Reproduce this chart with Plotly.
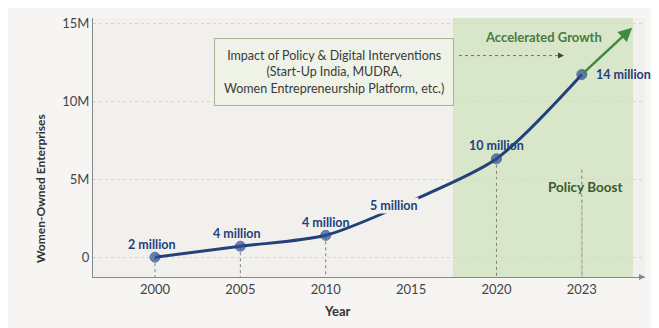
import plotly.graph_objects as go

# ---- data ----
years = ["2000", "2005", "2010", "2015", "2020", "2023"]
enterprises = [0.0, 0.7e6, 1.4e6, 3.6e6, 6.3e6, 11.7e6]
point_labels = ["2 million", "4 million", "4 million", "5 million", "10 million", "14 million"]
show_marker = [True, True, True, False, True, True]
y_tickvals = [0, 5e6, 10e6, 15e6]
y_ticktext = ["0", "5M", "10M", "15M"]
growth_arrow_end = (5.59, 14.7e6)

Y_MIN, Y_MAX = -1.27e6, 15.32e6
X_MIN, X_MAX = -0.726, 5.74

NAVY = "#22417a"
GREEN = "#3f8a3c"
FONT = "Lato, 'Open Sans', sans-serif"

# page body has an 8px margin: compensate so plot area sits at reference pixels
PW = 552.0   # plot width px
PH = 262.0   # plot height px


def px(xp):
    return (xp - 93) / PW


def py(yp):
    return (277 - yp) / PH


fig = go.Figure()

# green policy-boost region
fig.add_shape(type="rect", xref="x", yref="paper", x0=3.49, x1=5.60, y0=0, y1=1,
              fillcolor="#d8e6ca", line_width=0, layer="below")

# drop lines
for i, (yr, v) in enumerate(zip(years, enterprises)):
    if not show_marker[i]:
        continue
    top = v if yr != "2023" else 5.6e6
    fig.add_shape(type="line", xref="x", yref="y", x0=i, x1=i, y0=top, y1=Y_MIN,
                  line=dict(color="#7d7d7d", width=1, dash="dot"), layer="below")
# faint solid line below Policy Boost
fig.add_shape(type="line", xref="x", yref="y", x0=5, x1=5, y0=3.4e6, y1=Y_MIN,
              line=dict(color="#b9bfb2", width=1), layer="below")

# main curve
fig.add_trace(go.Scatter(
    x=years, y=enterprises, mode="lines+markers",
    line=dict(color=NAVY, width=3, shape="spline", smoothing=0.8),
    marker=dict(size=[10 if s else 0 for s in show_marker], color="#2b4f94"),
    hoverinfo="skip", showlegend=False,
))

# growth arrow
fig.add_annotation(x=growth_arrow_end[0], y=growth_arrow_end[1], xref="x", yref="y",
                   ax=5, ay=enterprises[-1], axref="x", ayref="y", text="",
                   showarrow=True, arrowhead=2, arrowsize=1.1, arrowwidth=2.5,
                   arrowcolor=GREEN)

# point labels
for i, (yr, v, lab) in enumerate(zip(years, enterprises, point_labels)):
    if i == 5:
        fig.add_annotation(x=i, y=v, xref="x", yref="y", text=f"<b>{lab}</b>",
                           showarrow=False, xanchor="left", xshift=12,
                           font=dict(family=FONT, size=12.5, color=NAVY))
    elif i == 3:
        fig.add_annotation(x=2.8, y=3.3e6, xref="x", yref="y", text=f"<b>{lab}</b>",
                           showarrow=False, bgcolor="#f2f0ed", borderpad=0,
                           font=dict(family=FONT, size=12.5, color=NAVY))
    else:
        fig.add_annotation(x=i, y=v, xref="x", yref="y", text=f"<b>{lab}</b>",
                           showarrow=False, yshift=13,
                           xshift=-3 if i < 2 else 0,
                           font=dict(family=FONT, size=12.5, color=NAVY))


def note(xp, yp, text, **kw):
    fig.add_annotation(x=px(xp), y=py(yp), xref="paper", yref="paper",
                       xanchor="center", yanchor="middle", text=text,
                       showarrow=False, **kw)


# text annotations
note(334, 70,
     "Impact of Policy &amp; Digital Interventions<br>(Start-Up India, MUDRA,<br>Women Entrepreneurship Platform, etc.)",
     align="center", bgcolor="#eef2e7", bordercolor="#a7b49a", borderwidth=1, borderpad=9,
     font=dict(family=FONT, size=12.5, color="#3a3a3a"))
fig.add_shape(type="line", xref="paper", yref="paper",
              x0=px(459), x1=px(557), y0=py(53), y1=py(53),
              line=dict(color="#6f6f6f", width=1, dash="dot"))
fig.add_annotation(x=px(564), y=py(53), xref="paper", yref="paper",
                   ax=-8, ay=0, text="", showarrow=True, arrowhead=2, arrowsize=1,
                   arrowwidth=1.2, arrowcolor="#444")
note(543, 34, "<b>Accelerated Growth</b>",
     font=dict(family=FONT, size=13, color="#4a7a3e"))
note(585, 186, "<b>Policy Boost</b>",
     font=dict(family=FONT, size=13.5, color="#3d5a2e"))
note(40, 188, "<b>Women-Owned Enterprises</b>", textangle=-90,
     font=dict(family=FONT, size=12, color="#333"))
note(337, 311, "<b>Year</b>", font=dict(family=FONT, size=13, color="#333"))
# x axis arrow head
fig.add_annotation(x=1.0, y=0, xref="paper", yref="paper", ax=-8, ay=0, text="",
                   showarrow=True, arrowhead=2, arrowsize=1, arrowwidth=1.2,
                   arrowcolor="#888")

fig.update_layout(
    width=651, height=320,
    margin=dict(l=85, r=14, t=7, b=51),
    paper_bgcolor="#f6f5f3", plot_bgcolor="#f2f0ed",
    font=dict(family=FONT, color="#444"),
    showlegend=False,
    xaxis=dict(type="category", range=[X_MIN, X_MAX], showgrid=False,
               showline=True, linecolor="#888", linewidth=1.2, ticks="",
               tickfont=dict(size=13, color="#444"), zeroline=False, fixedrange=True),
    yaxis=dict(range=[Y_MIN, Y_MAX], tickvals=y_tickvals, ticktext=y_ticktext,
               showgrid=True, gridcolor="#d9d5d0", griddash="dot", gridwidth=1,
               showline=True, linecolor="#888", linewidth=1.2, ticks="",
               tickfont=dict(size=13, color="#444"), zeroline=False, fixedrange=True),
)

fig.write_html("out.html")
